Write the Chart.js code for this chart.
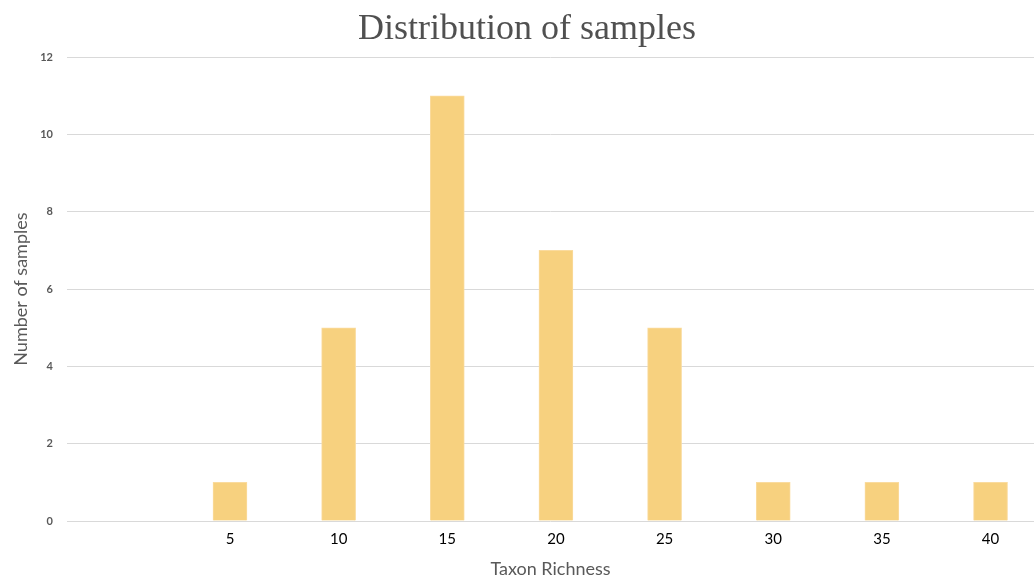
<!DOCTYPE html>
<html>
<head>
<meta charset="utf-8">
<title>Distribution of samples</title>
<script src="https://cdn.jsdelivr.net/npm/chart.js@4.4.1/dist/chart.umd.min.js"></script>
<style>
  html, body { margin: 0; padding: 0; background: #ffffff; overflow: hidden; }
  #chart { display: block; }
</style>
</head>
<body>
<canvas id="chart" width="1034" height="577"></canvas>
<script>
// Taxon richness bins and how many samples fall in each
const richnessBins = [5, 10, 15, 20, 25, 30, 35, 40];
const sampleCounts = [1, 5, 11, 7, 5, 1, 1, 1];
const countTicks = [0, 2, 4, 6, 8, 10, 12];

const GREY = '#595959';

const points = richnessBins.map((bin, i) => ({ x: bin, y: sampleCounts[i] }));

new Chart(document.getElementById('chart'), {
  type: 'bar',
  data: {
    datasets: [{
      label: 'Number of samples',
      data: points,
      backgroundColor: '#F7D17F',
      borderColor: '#FADB9E',
      borderWidth: 1,
      barThickness: 34
    }]
  },
  options: {
    responsive: false,
    animation: false,
    devicePixelRatio: 1,
    layout: { padding: { left: 20, top: 0, right: 0, bottom: 0 } },
    plugins: {
      legend: { display: false },
      tooltip: { enabled: false },
      title: {
        display: true,
        text: 'Distribution of samples',
        color: '#505050',
        font: { family: '"Liberation Serif", serif', size: 36, weight: 'normal', lineHeight: 1.2 },
        padding: { top: 8, bottom: 6 }
      }
    },
    scales: {
      x: {
        type: 'linear',
        offset: false,
        min: -2.5,
        max: 42,
        afterBuildTicks: (scale) => { scale.ticks = richnessBins.map(v => ({ value: v })); },
        afterFit: (scale) => { scale.height = 56; },
        grid: { display: false },
        border: { display: false },
        ticks: {
          color: '#000000',
          padding: 1,
          maxRotation: 0,
          autoSkip: false,
          font: { family: 'Lato, sans-serif', size: 15 }
        },
        title: {
          display: true,
          text: 'Taxon Richness',
          color: GREY,
          font: { family: 'Lato, sans-serif', size: 18, lineHeight: 1 },
          padding: { top: 0, bottom: -1 }
        }
      },
      y: {
        min: 0,
        max: 12,
        afterBuildTicks: (scale) => { scale.ticks = countTicks.map(v => ({ value: v })); },
        afterFit: (scale) => { scale.width = 47; },
        grid: { color: '#D9D9D9', lineWidth: 1, drawTicks: false },
        border: { display: false },
        ticks: {
          color: GREY,
          padding: 14,
          font: { family: 'Lato, sans-serif', size: 11, weight: 'bold' }
        },
        title: {
          display: true,
          text: 'Number of samples',
          color: GREY,
          font: { family: 'Lato, sans-serif', size: 18, lineHeight: 1.2 },
          padding: { top: -10, bottom: 0 }
        }
      }
    }
  }
});
</script>
</body>
</html>
